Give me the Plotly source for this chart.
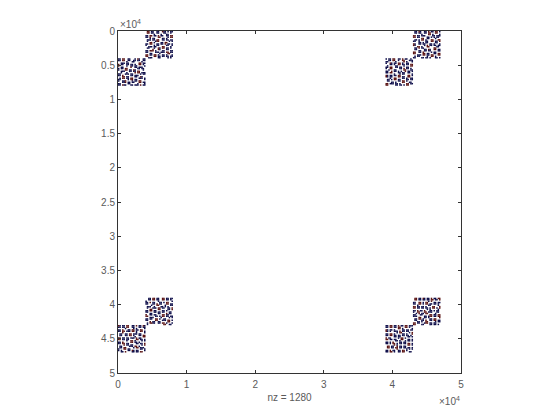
import plotly.graph_objects as go

# block corners (column, row) of the nonzero patches
block_cols = [0, 4000, 39000, 43000, 0, 4000, 39000, 43000]
block_rows = [4000, 0, 4000, 0, 43000, 39000, 43000, 39000]
cell = 200

# one string per row, b = blue dot, r = red dot, . = empty
block_0 = ["bb.rr..bb...b.rb..bb", "bb.rr..bb..bb.bb..bb", "......b...bb.....b..", "..bbb.bb.......rr.bb",
           "r.bb..bb.bb.b..rr.b.", "r.....b..bb.bb.....b", "..bb.....r..bb.bbb..", "b.bb.rr.......bb.bb.",
           "b....rr.bb.rb.....b.", "..bbb...bb.bb.rr....", "..b...b.....r.rr.bbb", "bb...bbb.bb.....b.bb",
           "bb.r.....bb.bbb.....", "...rr.bb....bb..rb..", ".b.rr.bb.rr....bbb.b", "bb.....b.rr.bb.....b",
           "b..bbr....b.bb.rr...", "...bbr.bb.bb...rr.bb", "bb.....bb.....b....b", "bb.rbb...bb.bbb.r.bb"]
block_1 = [".rr.bb..bb..rbb.b.bb", ".rr.bb..bb...bb...b.", "......b....b...bb...", "bb.rr.bb.r.bb..bb.rr",
           "bb.r.....rr.....b.rr", "...b.bb.....bb.b....", ".bbb.bb.rr..bb.bb.bb", ".b.....brr.......b.b",
           "...rr.b....bb.rr....", "bb.rr...bb.bb.r.bb.b", "b.....b.bb.....bb..b", "..bbb.bb....rr....b.",
           ".bb...b..rb.rr.bb.b.", ".....r...rb....bb...", "bb.rrr.b....bb....bb", "bb.....bbb.bbb.rr.bb",
           "...bb.....b.....rr..", "rr.bb.rr.b..bb.b...b", "rr....rr.bb.bb.bb.bb", "..bbb....bb.....b.b."]
block_2 = ["b.bb.rr..bb.r.bb..b.", "..bb.rr..b..rr...bbb", "bb.....b.....r.b...b", "b..rb.bb.rr.b..bb...",
           "...bb.b..rr.bb.bb.rr", ".b.....bb....b....rr", "bb.rr..bb.bb...bb...", "b..rr.....bb.r.bb.b.",
           "..b...bb.....rr...bb", "bb..r.bb.b.b..r.bb.b", "bb.rr....bb.bb..bb..", "......b...b.bb.....b",
           "rb.bb.bb.rr.....rr.b", "rb.bb....rr.bb..rr..", "...b..rr....bb.b..bb", ".bb.b.rr.bb....bb.bb",
           ".bb......bb.rr.b....", "....bb.b....rr...bb.", "rr.bbb.bb.b....rr.bb", "rr.....bb.bb.b.rr..."]
block_3 = [".bb.rb..bb.r.bb.rr.b", ".bb.bb..bb.rr...rr..", "......b....rr.b....b", "rr.bb.bbb.....bb.bbb",
           "rr.bb.....bb.b.b.bb.", "......rr..bb....b...", ".bb.b.rr.b...rr...rr", "bb..b....bb..rr.bb.r",
           "....bb.b.bb.....bb..", "rb..bb.bb...bb.b...b", "rb......b.r.bb.bb.bb", "...rr.b...rr.....bb.",
           ".bb.r.bb.......rr...", ".bb.....bb.rb..rr.bb", "....bb..bb.bb.....bb", "rr..bb.r.....b.bb...",
           "rr.....rr.bb...bb.rr", "...bbb.rr.bb.rr...rr", ".b.bb.....b..rr.b...", "bb....bb.bb.b...bb.b"]
block_4 = ["rb.bb.rr..bb.r.bb.rb", "bb.bb.rr..bb...bb.bb", ".....b.....b.b.....b", "bb.r...bb.rr.bb.rr..",
           "bb.rr.bbb.rr.b..rr.b", "...r.........b.....b", ".bb..bb.rr.bbb.bb...", ".bb..bb.rr.b...bb.rr",
           "..........  b.....rr", "rr.bb.bb.bbb.r.bb...", "rr.bb.bb.....rr.bb.b", "......b..rr.b....b.b",
           "bb.r.....rr.bb.b....", "bb.rr.bb.....bb.bb.r", "....r.bb.bb......b.r", ".bb.....bbb.rr.b....",
           ".bb.rr.....b.rr.bbb.", "b...rr.bb.......bb.b", "b.b....bb.rb.bb....b", "..bb.r....bb.bb.rr.."]
block_5 = ["..bb.rr.bb..rr.bb.bb", "..bb.rr.bb..rr.bb.b.", "b........b.........b", "bb.r.bb...bb.b.rr...",
           "bb...bb.r.bb...rr.bb", "....b...rr....b...bb", ".bbb..b....bb.b.b...", ".b...bbb.rr.bb..bb.r",
           "...rr....rr.....bb.r", "bb.rr.bb....bb.b....", "bb....bb.bb.bb...bb.", "...bb....bb....r.bb.",
           "r..bb.bb....rr.bb...", "rr.....bb.b.rr.bb.bb", "...bbb.....b.....b.b", "bb.bb..rr.b..bb.....",
           "bb.....rr...bbb.rr.b", "...r.bb..bb.....rr..", ".b.rrbb..bb.rr.b...b", ".b.......... rr..bb."]
block_6 = ["bb.rr.bb.r.bb.rr.bbb", "bb.rr.bb.rr...rr.b..", ".........rr.b......b", "rb.bb.b.....bb.bb.bb",
           "rb.b..bbb.r.bb.bb...", "........b.rr.....b.r", "bb.rr.b.....bb.b...r", "bb.rr.bb.bb.bb.bb.b.",
           "......bb.bb.....bb.b", "r.bb.....b.rr.b.....", "rr.bb.bb...rr...bb.b", ".......bb.b...b.bb.b",
           "bb.b.r....bb.bb.....", "bb.b.rr.b.bb.bb.rr.b", "......r.b.......rr.b", ".rr.bb..r.bb.bb.....",
           ".rr.bb.rr.bb.bb.bb.b", "........r......b.b.b", "bb.r.bb..bb.rr.b....", "bb.rr.b..bb.rr...bb."]
block_7 = [".rr.bb.rb.bb.r.bb.rr", ".rr.bb.bb.bb.rr.bb.r", "...........b.r......", "bb..rr.b.rr....bb.bb",
           "bb..rr.b.rr.bb.bb.b.", "...b.......bb.....b.", "rr.bb.bb.b....rr...r", "rr.bb.bb.bb.b.rr.b.r",
           "..........b.b.....b.", "bb.r.bb.r...bb.b.bb.", "b..rr...rr.bbb...bb.", "..b.r.bb.rr.....b...",
           "bb...bb.....rr.bb.rr", "bbb.....bb.brr.bb.rr", "....rr..bb.b.......r", ".bb.rr.b....bb.rr...",
           ".bb...bb.r..bb.rr.bb", "...bb.b..rr.....b.bb", "rr.bb...brr.bb.bb...", "rr....bb....bb.bb.b."]
block_patterns = [block_0, block_1, block_2, block_3, block_4, block_5, block_6, block_7]

tick_vals = [0, 5000, 10000, 15000, 20000, 25000, 30000, 35000, 40000, 45000, 50000]
y_tick_text = ["0", "0.5", "1", "1.5", "2", "2.5", "3", "3.5", "4", "4.5", "5"]
x_tick_vals = [0, 10000, 20000, 30000, 40000, 50000]
x_tick_text = ["0", "1", "2", "3", "4", "5"]
x_label = "nz = 1280"

blue_x, blue_y, red_x, red_y = [], [], [], []
for pattern, c0, r0 in zip(block_patterns, block_cols, block_rows):
    for i, row in enumerate(pattern):
        for j, ch in enumerate(row):
            if ch == "b":
                blue_x.append(c0 + j * cell + cell / 2)
                blue_y.append(r0 + i * cell + cell / 2)
            elif ch == "r":
                red_x.append(c0 + j * cell + cell / 2)
                red_y.append(r0 + i * cell + cell / 2)

text_color = "#5a5a5a"
axis_color = "#333333"

fig = go.Figure()
fig.add_trace(go.Scatter(x=blue_x, y=blue_y, mode="markers",
                         marker=dict(symbol="square", size=1.5, color="#0c0c48", line=dict(width=0))))
fig.add_trace(go.Scatter(x=red_x, y=red_y, mode="markers",
                         marker=dict(symbol="square", size=1.5, color="#581010", line=dict(width=0))))

# the page adds a body margin of about 8 px, so the margins allow for it
fig.update_layout(width=560, height=420, showlegend=False,
                  margin=dict(l=110, r=107, t=23, b=55, autoexpand=False),
                  paper_bgcolor="white", plot_bgcolor="white",
                  font=dict(family="Liberation Sans", size=10, color=text_color))
fig.update_xaxes(range=[0, 50000], tickvals=x_tick_vals, ticktext=x_tick_text,
                 ticks="inside", ticklen=3, tickwidth=1, tickcolor=axis_color,
                 showline=True, linecolor=axis_color, linewidth=1, mirror="ticks",
                 showgrid=False, zeroline=False, ticklabelstandoff=2,
                 title=dict(text=x_label, standoff=4, font=dict(size=10, color=text_color)))
fig.update_yaxes(range=[50000, 0], tickvals=tick_vals, ticktext=y_tick_text,
                 ticks="inside", ticklen=3, tickwidth=1, tickcolor=axis_color,
                 showline=True, linecolor=axis_color, linewidth=1, mirror="ticks",
                 showgrid=False, zeroline=False)

fig.add_annotation(text="×10<sup>4</sup>", xref="paper", yref="paper", x=0, y=1,
                   xanchor="left", yanchor="bottom", showarrow=False, yshift=-1,
                   font=dict(size=10, color=text_color))
fig.add_annotation(text="×10<sup>4</sup>", xref="paper", yref="paper", x=1, y=0,
                   xanchor="right", yanchor="top", showarrow=False, yshift=-20, xshift=1,
                   font=dict(size=10, color=text_color))

fig.write_html("out.html")
